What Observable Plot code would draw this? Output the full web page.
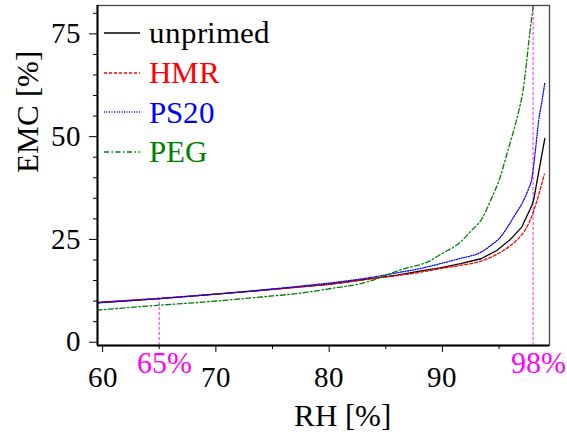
<!DOCTYPE html>
<html>
<head>
<meta charset="utf-8">
<script src="https://cdn.jsdelivr.net/npm/d3@7"></script>
<script src="https://cdn.jsdelivr.net/npm/@observablehq/plot@0.6"></script>
<style>
  @font-face { font-family: "RefSerif"; src: local("Liberation Serif"), local("LiberationSerif"), local("LiberationSerif-Regular"), local("Tinos"), local("Times New Roman"); }
  html, body { margin: 0; padding: 0; background: #fff; }
  #wrap { position: relative; width: 567px; height: 439px; font-family: "RefSerif", "Liberation Serif", Tinos, "Times New Roman", Times, serif; }
  #wrap svg text { font-family: "RefSerif", "Liberation Serif", Tinos, "Times New Roman", Times, serif; }
  #legend { position: absolute; left: 104px; top: 13px; }
  .row { display: flex; align-items: center; height: 39.7px; font-size: 31px; line-height: 1; }
  .row svg { width: 36px; height: 10px; margin-right: 9px; }
</style>
</head>
<body>
<div id="wrap"></div>
<script>
// ---- data ----
const unprimedRH  = [59.5, 65, 70, 74, 78, 80, 84, 86, 88, 89.8, 91.6, 93.4, 94.8, 96, 97.0, 97.9, 98.07, 99.04];
const unprimedEMC = [9.6, 10.6, 11.7, 12.6, 13.6, 14.1, 15.6, 16.3, 17.3, 18.1, 19.1, 20.3, 22.3, 25.0, 28.0, 33.3, 34.9, 49.6];

const hmrRH  = [59.5, 65, 70, 74, 78, 80, 84, 86, 88, 89.8, 91.6, 93.4, 94.8, 96, 96.7, 97.75, 98.35, 99.0];
const hmrEMC = [9.7, 10.7, 11.7, 12.6, 13.6, 14.1, 15.5, 16.2, 17.0, 17.9, 18.7, 19.7, 21.4, 23.5, 25.2, 29.7, 34.5, 40.9];

const ps20RH  = [59.5, 65, 70, 74, 78, 80, 84, 86, 88, 89.8, 91.6, 93.4, 94.2, 95.0, 96.3, 97.3, 97.6, 97.9, 98.05, 98.2, 98.5, 98.8, 99.04];
const ps20EMC = [9.6, 10.6, 11.7, 12.7, 13.8, 14.4, 15.9, 16.9, 17.9, 19.1, 20.4, 21.9, 23.4, 25.2, 30.5, 35.3, 37.3, 40.0, 43.0, 46.5, 54.0, 58.9, 63.2];

const pegRH  = [59.5, 65, 68.6, 74, 77.9, 80, 83.4, 85.4, 86.3, 88.9, 89.8, 91.6, 92.5, 93.5, 94.25, 95.1, 95.7, 96.3, 96.75, 97.1, 97.4, 97.7, 98.0, 98.1];
const pegEMC = [7.8, 9.0, 9.7, 11.0, 12.1, 13.0, 14.7, 16.7, 17.6, 19.8, 21.3, 24.4, 27.0, 30.1, 34.5, 40.2, 45.9, 51.6, 56.4, 61.0, 67.5, 75.0, 81.5, 84.0];

const seriesNames  = ["unprimed", "HMR", "PS20", "PEG"];
const seriesColors = ["#000000", "#ff0000", "#0000ff", "#008000"];
const seriesDash   = [null, "3,2", "1,1.5", "5,2.5,1.5,2.5"];
const seriesCurve  = ["linear", "monotone-x", "monotone-x", "monotone-x"];

const xMajorTicks = [60, 70, 80, 90];
const xMinorTicks = [65, 75, 85, 95];
const yMajorTicks = [0, 25, 50, 75];
const yMinorTicks = [5, 10, 15, 20, 30, 35, 40, 45, 55, 60, 65, 70, 80];

const markRH     = [65, 98];
const markLabels = ["65%", "98%"];

const xDomain = [59.55, 99.45];
const yDomain = [-0.8, 81.9];

// ---- build ----
const seriesRH  = [unprimedRH, hmrRH, ps20RH, pegRH];
const seriesEMC = [unprimedEMC, hmrEMC, ps20EMC, pegEMC];
const lineMarks = seriesNames.map((name, i) => {
  const rows = seriesRH[i].map((x, j) => ({x, y: seriesEMC[i][j]}));
  return Plot.line(rows, {
    x: "x", y: "y", stroke: seriesColors[i], strokeWidth: 1.3,
    strokeDasharray: seriesDash[i] || undefined, curve: seriesCurve[i], clip: true
  });
});

const y65 = unprimedEMC[unprimedRH.indexOf(65)];
const markRules = [
  {x: markRH[0], y1: yDomain[0], y2: y65},
  {x: markRH[1], y1: yDomain[0], y2: yDomain[1]}
];

const FONT = "RefSerif, 'Liberation Serif', Tinos, 'Times New Roman', Times, serif";

const chart = Plot.plot({
  width: 567,
  height: 439,
  marginLeft: 97,
  marginRight: 18,
  marginTop: 5,
  marginBottom: 94,
  style: {fontFamily: FONT, color: "#000", background: "#fff", overflow: "visible"},
  x: {domain: xDomain},
  y: {domain: yDomain},
  marks: [
    Plot.frame({stroke: "#444", strokeWidth: 1.3}),
    Plot.ruleX(markRules, {x: "x", y1: "y1", y2: "y2", stroke: "#ff55ff", strokeWidth: 1.3, strokeDasharray: "3,2"}),
    ...lineMarks,
    Plot.ruleX([xDomain[0]], {stroke: "#000", strokeWidth: 2}),
    Plot.ruleY([yDomain[0]], {stroke: "#000", strokeWidth: 2}),
    Plot.axisX({ticks: xMajorTicks, tickSize: 7, tickPadding: 14, fontSize: 29, label: null, tickFormat: d => String(d)}),
    Plot.axisX({ticks: xMinorTicks, tickSize: 4, tickFormat: () => "", label: null}),
    Plot.axisY({ticks: yMajorTicks, tickSize: 8, tickPadding: 9, fontSize: 29, label: null, tickFormat: d => String(d)}),
    Plot.axisY({ticks: yMinorTicks, tickSize: 4, tickFormat: () => "", label: null}),
    Plot.text(markRH, {x: d => d, text: (d, i) => markLabels[i], frameAnchor: "bottom", lineAnchor: "top", dy: 6, dx: 5, fill: "#ff00ff", fontSize: 30}),
    Plot.text(["RH [%]"], {frameAnchor: "bottom", text: d => d, dx: 19, dy: 80, fontSize: 31, fill: "#000"}),
    Plot.text(["EMC [%]"], {frameAnchor: "left", text: d => d, rotate: -90, dx: -69, dy: -3, fontSize: 31, fill: "#000"})
  ]
});

const wrap = document.getElementById("wrap");
wrap.appendChild(chart);

// legend overlay
const legend = document.createElement("div");
legend.id = "legend";
seriesNames.forEach((name, i) => {
  const row = document.createElement("div");
  row.className = "row";
  const dash = seriesDash[i] ? `stroke-dasharray="${seriesDash[i]}"` : "";
  row.innerHTML = `<svg viewBox="0 0 36 10"><line x1="0" y1="5" x2="36" y2="5" stroke="${seriesColors[i]}" stroke-width="1.3" ${dash}/></svg><span style="color:${seriesColors[i]}">${name}</span>`;
  legend.appendChild(row);
});
wrap.appendChild(legend);
</script>
</body>
</html>
